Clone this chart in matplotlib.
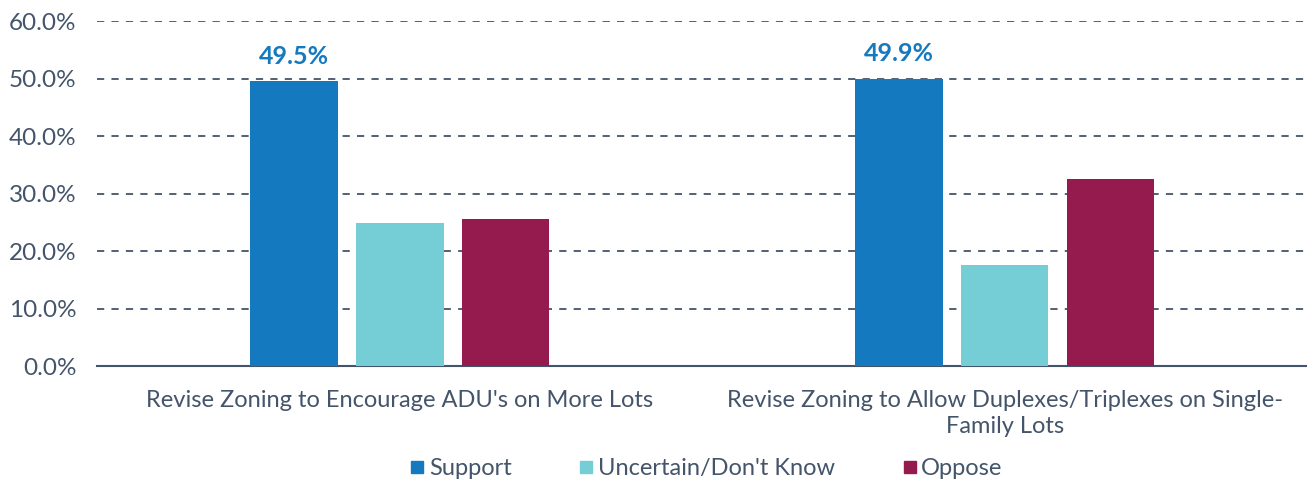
import matplotlib.pyplot as plt
from matplotlib.lines import Line2D
import numpy as np

plt.rcParams['font.family'] = ['Lato', 'DejaVu Sans']

categories = ["Revise Zoning to Encourage ADU's on More Lots",
              "Revise Zoning to Allow Duplexes/Triplexes on Single-\nFamily Lots"]
series = ['Support', "Uncertain/Don't Know", 'Oppose']
support = [49.5, 49.9]
uncertain = [24.9, 17.6]
oppose = [25.6, 32.5]
yticks = [0, 10, 20, 30, 40, 50, 60]

colors = ['#1479BF', '#75CED5', '#951B4E']
txt = '#44546A'

fig = plt.figure(figsize=(13.07, 4.79), dpi=100)
ax = fig.add_axes([0.0745, 0.2359, 0.9255, 0.7202])

x = np.arange(len(categories))
w = 0.145
step = 0.175
for i, (vals, c) in enumerate(zip([support, uncertain, oppose], colors)):
    ax.bar(x + (i - 1) * step, vals, width=w, color=c, zorder=3)

for xi, v in zip(x, support):
    ax.text(xi - step, v + 2.4, f'{v:.1f}%', ha='center', va='bottom',
            color=colors[0], fontsize=18, fontweight='bold')

ax.set_xlim(-0.5, 1.5)
ax.set_ylim(0, 60)
ax.set_yticks(yticks)
ax.set_yticklabels([f'{t:.1f}%' for t in yticks], fontsize=17.5)
ax.set_xticks(x)
ax.set_xticklabels(categories, linespacing=1.3, fontsize=17)
ax.tick_params(axis='both', length=0, labelcolor=txt)
ax.tick_params(axis='y', pad=15)
ax.tick_params(axis='x', pad=17)

ax.yaxis.grid(True, linestyle=(0, (4, 4)), color=txt, linewidth=1.3, zorder=0)
ax.set_axisbelow(True)
for s in ['top', 'right', 'left']:
    ax.spines[s].set_visible(False)
ax.spines['bottom'].set_color(txt)
ax.spines['bottom'].set_linewidth(1.5)

handles = [Line2D([], [], marker='s', linestyle='none', markersize=8.5,
                  markerfacecolor=c, markeredgecolor=c) for c in colors]
fig.legend(handles, series, loc='lower center', ncol=3, frameon=False,
           bbox_to_anchor=(0.541, -0.045), fontsize=17, labelcolor=txt,
           handlelength=0.5, handletextpad=0.25, columnspacing=2.9)

fig.savefig('out.png', dpi=100)
